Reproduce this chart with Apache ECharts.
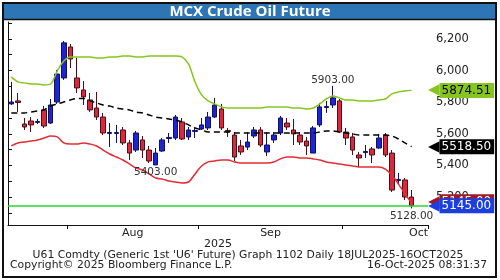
<!DOCTYPE html>
<html><head><meta charset="utf-8">
<script src="https://cdn.jsdelivr.net/npm/echarts@6/dist/echarts.min.js"></script>
<style>html,body{margin:0;padding:0;background:#fff}#c{width:500px;height:280px}</style>
</head><body><div id="c"></div>
<script>
// ---------- data ----------
const dates = [
 '2025-07-21','2025-07-22','2025-07-23','2025-07-24','2025-07-25','2025-07-28','2025-07-29','2025-07-30','2025-07-31',
 '2025-08-01','2025-08-04','2025-08-05','2025-08-06','2025-08-07','2025-08-08','2025-08-11','2025-08-12','2025-08-13','2025-08-14',
 '2025-08-18','2025-08-19','2025-08-20','2025-08-21','2025-08-22','2025-08-25','2025-08-26','2025-08-27','2025-08-28','2025-08-29',
 '2025-09-01','2025-09-02','2025-09-03','2025-09-04','2025-09-05','2025-09-08','2025-09-09','2025-09-10','2025-09-11','2025-09-12',
 '2025-09-15','2025-09-16','2025-09-17','2025-09-18','2025-09-19','2025-09-22','2025-09-23','2025-09-24','2025-09-25','2025-09-26',
 '2025-09-29','2025-09-30',
 '2025-10-01','2025-10-03','2025-10-06','2025-10-07','2025-10-08','2025-10-09','2025-10-10','2025-10-13','2025-10-14','2025-10-15','2025-10-16',
 '2025-10-17','2025-10-20'
];
const openP = [5789,5808,5662,5681,5672,5751,5668,5801,5953,6149,
 5953,5877,5814,5763,5706,5602,5602,5624,5542,5497,
 5561,5497,5403,5491,5570,5573,5675,5580,5615,5630,
 5637,5706,5757,5621,5592,5523,5516,5586,5624,5485,
 5561,5605,5668,5624,5592,5554,5478,5656,5766,5782,
 5808,5611,5580,5466,5481,5504,5510,5592,5478,5305,
 5308,5200];
const closeP = [5801,5798,5643,5656,5678,5649,5782,5978,6175,6073,
 5890,5833,5751,5706,5605,5608,5608,5542,5478,5605,
 5497,5428,5478,5561,5577,5706,5567,5624,5621,5656,
 5706,5782,5637,5615,5453,5485,5548,5624,5529,5529,
 5592,5700,5643,5599,5548,5523,5637,5770,5773,5827,
 5611,5573,5497,5447,5488,5466,5573,5466,5244,5311,
 5200,5145];
const lowP = [5782,5738,5624,5611,5662,5637,5662,5789,5941,6016,
 5858,5782,5738,5687,5592,5516,5542,5529,5434,5485,
 5447,5415,5403,5485,5542,5561,5561,5561,5573,5624,
 5624,5700,5624,5580,5428,5466,5497,5573,5516,5459,
 5542,5592,5624,5529,5529,5466,5478,5643,5732,5763,
 5605,5529,5466,5390,5447,5415,5505,5453,5232,5276,
 5181,5128];
const highP = [5928,5858,5700,5706,5694,5776,5820,6004,6187,6168,
 6080,5934,5858,5865,5732,5668,5656,5643,5561,5618,
 5586,5523,5510,5573,5605,5719,5700,5643,5643,5700,
 5738,5827,5789,5637,5611,5561,5611,5643,5643,5611,
 5611,5713,5700,5694,5611,5580,5649,5795,5808,5903,
 5820,5637,5605,5485,5529,5516,5599,5605,5497,5352,
 5320,5244];
const upperBand = [5960,5928,5922,5915,5915,5909,5915,5997,6060,6086,
 6086,6086,6086,6080,6080,6086,6086,6092,6092,6086,
 6086,6092,6092,6092,6092,6092,6086,6042,5928,5846,
 5808,5789,5770,5763,5763,5763,5763,5763,5763,5770,
 5770,5770,5770,5763,5763,5757,5763,5789,5820,5839,
 5827,5814,5814,5808,5808,5808,5814,5820,5852,5865,
 5871,5874.51];
const midBand = [5732,5732,5732,5738,5744,5751,5776,5789,5801,5814,
 5823,5823,5808,5795,5782,5776,5763,5757,5751,5738,
 5732,5719,5706,5700,5694,5687,5675,5656,5637,5624,
 5611,5611,5611,5611,5605,5605,5605,5605,5605,5605,
 5605,5605,5605,5605,5605,5605,5605,5611,5618,5618,
 5611,5605,5599,5592,5592,5592,5592,5592,5586,5567,
 5542,5518.50];
const lowerBand = [5523,5542,5548,5554,5561,5573,5586,5580,5542,5535,
 5535,5542,5535,5523,5497,5472,5453,5434,5409,5384,
 5371,5346,5320,5314,5301,5295,5289,5295,5346,5396,
 5422,5428,5434,5434,5422,5415,5415,5415,5415,5415,
 5422,5441,5453,5453,5447,5447,5441,5434,5422,5415,
 5409,5403,5396,5390,5390,5390,5390,5377,5339,5282,
 5219,5162.49];
const refLevel = 5145;
const yTickValues = [5100,5200,5300,5400,5500,5600,5700,5800,5900,6000,6100,6200,6300];
const yLabelValues = [5200,5400,5600,5800,6000,6200];
const annotDates = ['2025-09-29','2025-08-21','2025-10-16'];
const annotValues = [5903,5403,5128];
const monthNames = ['Jan','Feb','Mar','Apr','May','Jun','Jul','Aug','Sep','Oct','Nov','Dec'];
const yearLabel = '2025';
const titleText = 'MCX Crude Oil Future';
const footer1 = "U61 Comdty (Generic 1st 'U6' Future) Graph 1102 Daily 18JUL2025-16OCT2025";
const footer2 = 'Copyright\u00A9 2025 Bloomberg Finance L.P.';
const footer3 = '16-Oct-2025 08:31:37';

// ---------- derived ----------
const N = dates.length;
const candles = openP.map((o,i)=>[o, closeP[i], lowP[i], highP[i]]);
const monthStartIdx = [];
for (let i=1;i<N;i++) if (dates[i].slice(0,7)!==dates[i-1].slice(0,7)) monthStartIdx.push(i);
const spans = []; let s0 = 0;
monthStartIdx.forEach(m=>{spans.push([s0,m]); s0=m;}); spans.push([s0,N]);
const monthLabelMap = {};
spans.forEach(([a,b],j)=>{
  if (j===0) return; // partial first month not labelled
  const pos = (j===spans.length-1) ? N : (a+b)/2;
  monthLabelMap[pos] = monthNames[parseInt(dates[a].slice(5,7),10)-1];
});
const monthLabelPos = Object.keys(monthLabelMap).map(Number);
const last = candles.length-1;

const FONT = '"DejaVu Sans", Verdana, sans-serif';
const tag = (bg, fg) => ({
  a:{color:bg, fontSize:15, fontFamily:FONT, lineHeight:15, padding:[0,0,0,0]},
  b:{backgroundColor:bg, color:fg, fontSize:12, fontFamily:FONT, padding:[2,3,1,2], lineHeight:13}
});
const hidden = {color:'rgba(0,0,0,0)', width:0};
const tagLabel = (val, bg, fg, extra) => Object.assign({
  show:true, position:'end', distance:0,
  formatter:'{a|\u25C0}{b|'+val.toFixed(2)+'}', rich:tag(bg,fg)
}, extra||{});

const chart = echarts.init(document.getElementById('c'), null, {renderer:'canvas'});
chart.setOption({
  animation:false,
  backgroundColor:'#ffffff',
  grid:{left:8, right:72, top:22, bottom:55, containLabel:false},
  xAxis:[{
    type:'category', data:dates, boundaryGap:true,
    axisLine:{show:true, lineStyle:{color:'#111', width:1}},
    axisTick:{show:true, length:4, lineStyle:{color:'#111'},
      interval:(idx)=>monthStartIdx.indexOf(idx)>=0},
    axisLabel:{show:false}, splitLine:{show:false}
  },{
    type:'value', min:0, max:N, position:'bottom',
    axisLine:{show:false}, axisTick:{show:false}, splitLine:{show:false},
    axisLabel:{customValues:monthLabelPos, formatter:(v)=>monthLabelMap[v]||'',
      fontSize:11, fontFamily:FONT, color:'#222', margin:3, alignMaxLabel:'right'}
  }],
  yAxis:{
    type:'value', position:'right', min:5023, max:6307, scale:true,
    splitLine:{show:false},
    axisLine:{show:true, lineStyle:{color:'#111', width:1}},
    axisTick:{show:true, customValues:yTickValues, length:4, lineStyle:{color:'#111'}},
    axisLabel:{customValues:yLabelValues, fontSize:11.5, fontFamily:FONT, color:'#222', margin:8}
  },
  series:[
    {
      type:'candlestick', data:candles, barWidth:5, z:2,
      itemStyle:{color:'#1c24d4', color0:'#d82a3e', borderColor:'#11115e', borderColor0:'#4e0e16', borderWidth:1},
      markPoint:{
        symbol:'circle', symbolSize:0.1, silent:true,
        data: annotDates.map((d,i)=>{
          const idx = dates.indexOf(d);
          const isHigh = annotValues[i]===highP[idx];
          return {coord:[d, annotValues[i]], value:annotValues[i],
            label:{show:true, position:isHigh?'top':'bottom', distance:isHigh?0:2,
              formatter:annotValues[i].toFixed(2), fontSize:10.5, fontFamily:FONT, color:'#333'}};
        })
      },
      markLine:{
        symbol:'none', silent:true,
        data:[
          {yAxis:upperBand[last], lineStyle:hidden, label:tagLabel(upperBand[last], '#86c51f', '#000')},
          {yAxis:midBand[last], lineStyle:hidden, label:tagLabel(midBand[last], '#000', '#fff')},
          {yAxis:closeP[last], lineStyle:hidden, label:tagLabel(closeP[last], '#9a1b2a', '#fff', {offset:[0,-4]})},
          {yAxis:refLevel, lineStyle:{color:'#2bd62b', width:1.5, type:'solid'}, label:tagLabel(refLevel, '#1d3fe0', '#fff')}
        ]
      }
    },
    {type:'line', data:upperBand, symbol:'none', z:3, smooth:0.3, lineStyle:{color:'#86c51f', width:1.5}},
    {type:'line', data:midBand, symbol:'none', z:3, smooth:0.3, lineStyle:{color:'#000', width:1.5, type:[6,4]}},
    {type:'line', data:lowerBand, symbol:'none', z:3, smooth:0.3, lineStyle:{color:'#e52b35', width:1.5}}
  ],
  graphic:[
    {type:'rect', shape:{x:4, y:4, width:491, height:15}, style:{fill:'#2e75b6'}, z:10},
    {type:'line', shape:{x1:4, y1:19.5, x2:495, y2:19.5}, style:{stroke:'#111', lineWidth:1.5}, z:10},
    {type:'text', x:250, y:12, z:11, style:{text:titleText, font:'bold 15px "Open Sans", sans-serif', fill:'#fff', align:'center', verticalAlign:'middle'}},
    {type:'text', x:218, y:244, z:11, style:{text:yearLabel, font:'11px '+FONT, fill:'#222', align:'center', verticalAlign:'middle'}},
    {type:'text', x:248, y:255, z:11, style:{text:footer1, font:'10.8px '+FONT, fill:'#222', align:'center', verticalAlign:'middle'}},
    {type:'text', x:10, y:265.5, z:11, style:{text:footer2, font:'10.8px '+FONT, fill:'#222', align:'left', verticalAlign:'middle'}},
    {type:'text', x:487, y:265.5, z:11, style:{text:footer3, font:'10.8px '+FONT, fill:'#222', align:'right', verticalAlign:'middle'}},
    {type:'rect', shape:{x:3, y:3, width:493, height:274}, style:{fill:'none', stroke:'#111', lineWidth:2}, z:12}
  ]
});
</script></body></html>
